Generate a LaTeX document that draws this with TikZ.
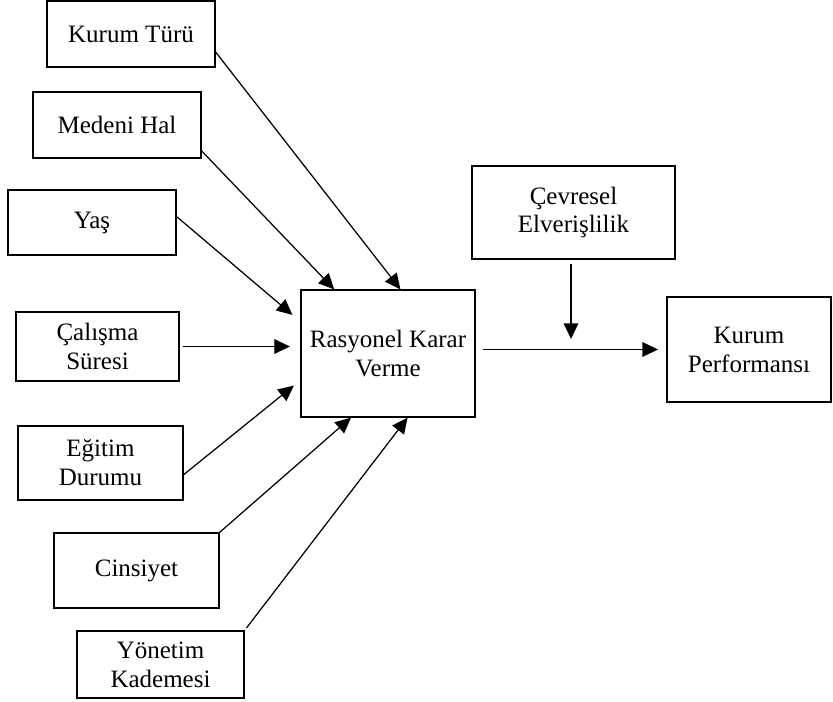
\documentclass[tikz,border=0pt]{standalone}
\usepackage{fontspec}
\setmainfont{Liberation Serif}
\usetikzlibrary{arrows.meta}
\usetikzlibrary{calc}
\tikzset{
kutu/.style 2 args = {draw, rectangle, align=center, inner sep=0pt,
                      line width=0.6pt, font=\fontsize{12}{13.9}\selectfont,
                      minimum width=#1*0.48pt, minimum height=#2*0.48pt},
ok/.style = {line width=0.6pt, -{Triangle[length=7.5pt, width=7pt]}}
}

\begin{document}
\begin{tikzpicture}[x=0.48pt, y=-0.48pt]
        \useasboundingbox (0,0) rectangle (833,701);

        % bagimsiz degiskenler
        \node[kutu={168}{66}] (kt) at (131,34) {Kurum Türü};
        \node[kutu={168}{66}] (mh) at (117,125) {Medeni Hal};
        \node[kutu={168}{65}] (ya) at (92,222.5) {Yaş};
        \node[kutu={163}{69}] (cs) at (97.5,346.5) {Çalışma\\Süresi};
        \node[kutu={165}{74}] (ed) at (100.5,463) {Eğitim\\Durumu};
        \node[kutu={165}{75}] (cin) at (136.5,570.5) {Cinsiyet};
        \node[kutu={167}{67}] (yk) at (160.5,664.5) {Yönetim\\Kademesi};

        % aracı, düzenleyici ve sonuç
        \node[kutu={174}{127}] (rk) at (388,353.5) {Rasyonel Karar\\Verme};
        \node[kutu={203}{93}] (ce) at (573.5,212.5) {Çevresel\\Elverişlilik};
        \node[kutu={164}{105}] (kp) at (749,349.5) {Kurum\\Performansı};
        \coordinate (m) at ($(rk.east)!0.5!(kp.west)$);

        \draw[ok] (kt.-12) -- (rk.79);
        \draw[ok] (mh.-17) -- (rk.130);
        \draw[ok, shorten >=5pt] (ya.4) -- (rk.160);
        \draw[ok, shorten <=1.5pt, shorten >=5pt] (cs.east) -- (cs.east -| rk.west);
        \draw[ok, shorten >=4pt] (ed.-8) -- (rk.197);
        \draw[ok] (cin.north east) -- (rk.240);
        \draw[ok, shorten <=1.5pt] (yk.north east) -- (rk.-73);
        \draw[ok, shorten <=3.5pt, shorten >=4pt] (rk.east |- kp.west) -- (kp.west);
        \draw[ok, shorten <=2pt, shorten >=6pt] (ce.south -| m) -- (m);
\end{tikzpicture}
\end{document}
